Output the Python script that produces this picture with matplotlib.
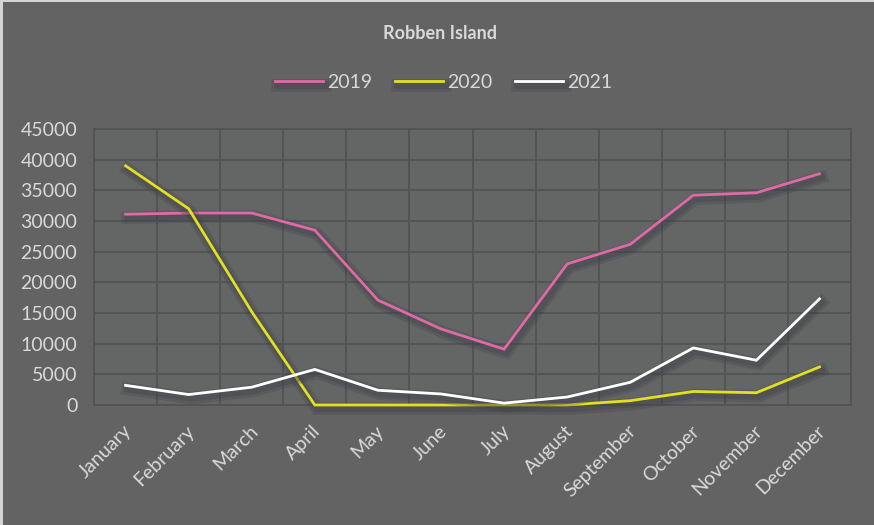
import numpy as np
import matplotlib.pyplot as plt
import matplotlib.patheffects as pe
from matplotlib.transforms import ScaledTranslation

plt.rcParams['font.family'] = ['Lato', 'DejaVu Sans']

months = ["January", "February", "March", "April", "May", "June", "July",
          "August", "September", "October", "November", "December"]
v2019 = [31100, 31300, 31300, 28500, 17100, 12400, 9100, 23000, 26200, 34200, 34600, 37700]
v2020 = [39000, 32000, 15200, 0, 0, 0, 0, 0, 700, 2200, 2000, 6200]
v2021 = [3200, 1700, 2900, 5800, 2400, 1800, 300, 1300, 3700, 9300, 7300, 17300]
series = [("2019", v2019, "#e06aa6"), ("2020", v2020, "#e3e021"), ("2021", v2021, "#ffffff")]

bg = "#636363"
txt = "#d9d9d9"

fig = plt.figure(figsize=(8.74, 5.25), dpi=100, facecolor=bg)
ax = fig.add_axes([0.1076, 0.2286, 0.8661, 0.5257])
ax.set_facecolor("#646565")

x = np.arange(len(months))
shadow = [pe.SimpleLineShadow(offset=(1.5, -2.5), shadow_color="#3c3e48", alpha=0.25, linewidth=9),
          pe.SimpleLineShadow(offset=(1.5, -2.5), shadow_color="#3c3e48", alpha=0.3, linewidth=5),
          pe.Normal()]
for name, vals, col in series:
    ax.plot(x, vals, color=col, lw=2, label=name, path_effects=shadow,
            solid_joinstyle="miter", clip_on=False, zorder=3)

ax.set_xlim(-0.5, 11.5)
ax.set_ylim(0, 45000)
ax.set_yticks(np.arange(0, 45001, 5000))
ax.set_xticks(x)
ax.set_xticks(np.arange(-0.5, 12, 1), minor=True)
ax.grid(True, which="major", axis="y", color="#515354", lw=1.3)
ax.grid(True, which="minor", axis="x", color="#515354", lw=1.3)
ax.set_axisbelow(True)
for s in ax.spines.values():
    s.set_color("#515354")
    s.set_linewidth(1.3)
    s.set_zorder(1)

ax.tick_params(axis="both", which="both", length=0, colors=txt)
ax.tick_params(axis="y", labelsize=14, pad=12)
ax.set_xticklabels(months, rotation=45, ha="right", rotation_mode="anchor", fontsize=14)
off = ScaledTranslation(-2 / 72, -9 / 72, fig.dpi_scale_trans)
for lab in ax.get_xticklabels():
    lab.set_transform(lab.get_transform() + off)

fig.text(0.503, 0.937, "Robben Island", ha="center", va="center", color=txt,
         fontsize=13, fontweight="bold")
leg = fig.legend(loc="center", bbox_to_anchor=(0.5075, 0.843), ncol=3, frameon=False,
                 fontsize=14, handlelength=2.45, columnspacing=1.2, handletextpad=0.2)
for t in leg.get_texts():
    t.set_color(txt)

# light edge only on the top and left, like a cropped screenshot
fig.add_artist(plt.Rectangle((0, 0), 3 / 874, 1, transform=fig.transFigure,
                             facecolor="#d4d4d4", edgecolor="none"))
fig.add_artist(plt.Rectangle((0, 1 - 2 / 525), 1, 2 / 525, transform=fig.transFigure,
                             facecolor="#d4d4d4", edgecolor="none"))

fig.savefig("out.png", dpi=100, facecolor=bg)
